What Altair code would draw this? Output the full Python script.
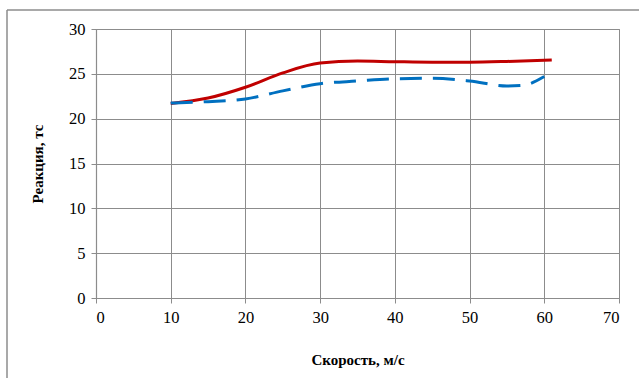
import altair as alt
import pandas as pd

# Red (solid) series
red_x = [10, 15, 20, 25, 30, 35, 40, 45, 50, 55, 61]
red_y = [21.7, 22.3, 23.5, 25.1, 26.2, 26.42, 26.35, 26.3, 26.3, 26.38, 26.55]

# Blue (dashed) series
blue_x = [10, 15, 20, 25, 30, 35, 40, 45, 50, 55, 57, 60]
blue_y = [21.75, 21.9, 22.2, 23.1, 23.9, 24.2, 24.45, 24.5, 24.2, 23.65, 23.7, 24.7]

x_ticks = [0, 10, 20, 30, 40, 50, 60, 70]
y_ticks = [0, 5, 10, 15, 20, 25, 30]

red_df = pd.DataFrame({"x": red_x, "y": red_y})
blue_df = pd.DataFrame({"x": blue_x, "y": blue_y})

FONT = "Liberation Serif"
GRID = "#8c8c8c"

xscale = alt.Scale(domain=[0, 70], nice=False, zero=False)
yscale = alt.Scale(domain=[0, 30], nice=False, zero=False)

common = dict(grid=True, gridColor=GRID, domainColor=GRID, tickColor=GRID, tickSize=5,
              labelPadding=6, labelFont=FONT, labelFontSize=16.5, labelColor="#000",
              titleFont=FONT, titleFontSize=15, titleFontWeight="bold", titleColor="#000",
              gridWidth=1, domainWidth=1.2)

xaxis = alt.Axis(values=x_ticks, title="Скорость, м/с", titlePadding=27, **common)
yaxis = alt.Axis(values=y_ticks, title="Реакция, тс", titlePadding=23, **common)

red = alt.Chart(red_df).mark_line(color="#C00000", strokeWidth=3, interpolate="monotone").encode(
    x=alt.X("x:Q", scale=xscale, axis=xaxis),
    y=alt.Y("y:Q", scale=yscale, axis=yaxis),
)

blue = alt.Chart(blue_df).mark_line(color="#0070C0", strokeWidth=3, interpolate="monotone",
                                    strokeDash=[22, 11]).encode(
    x=alt.X("x:Q", scale=xscale),
    y=alt.Y("y:Q", scale=yscale),
)

one = pd.DataFrame({"a": [0]})
frame_left = alt.Chart(one).mark_rule(color="#8c8c8c", strokeWidth=1.5).encode(
    x=alt.value(-89), y=alt.value(-19), y2=alt.value(400)
)
frame_top = alt.Chart(one).mark_rule(color="#8c8c8c", strokeWidth=1.5).encode(
    x=alt.value(-89), x2=alt.value(700), y=alt.value(-19)
)

chart = alt.layer(frame_left, frame_top, red, blue).properties(
    width=523, height=269,
    padding={"left": 96, "top": 29, "right": 20, "bottom": 80},
    autosize=alt.AutoSizeParams(type="none"),
    background="white",
).configure_view(stroke=GRID, strokeWidth=1)

chart.save("out.html", embed_options={"renderer": "svg", "actions": False})
